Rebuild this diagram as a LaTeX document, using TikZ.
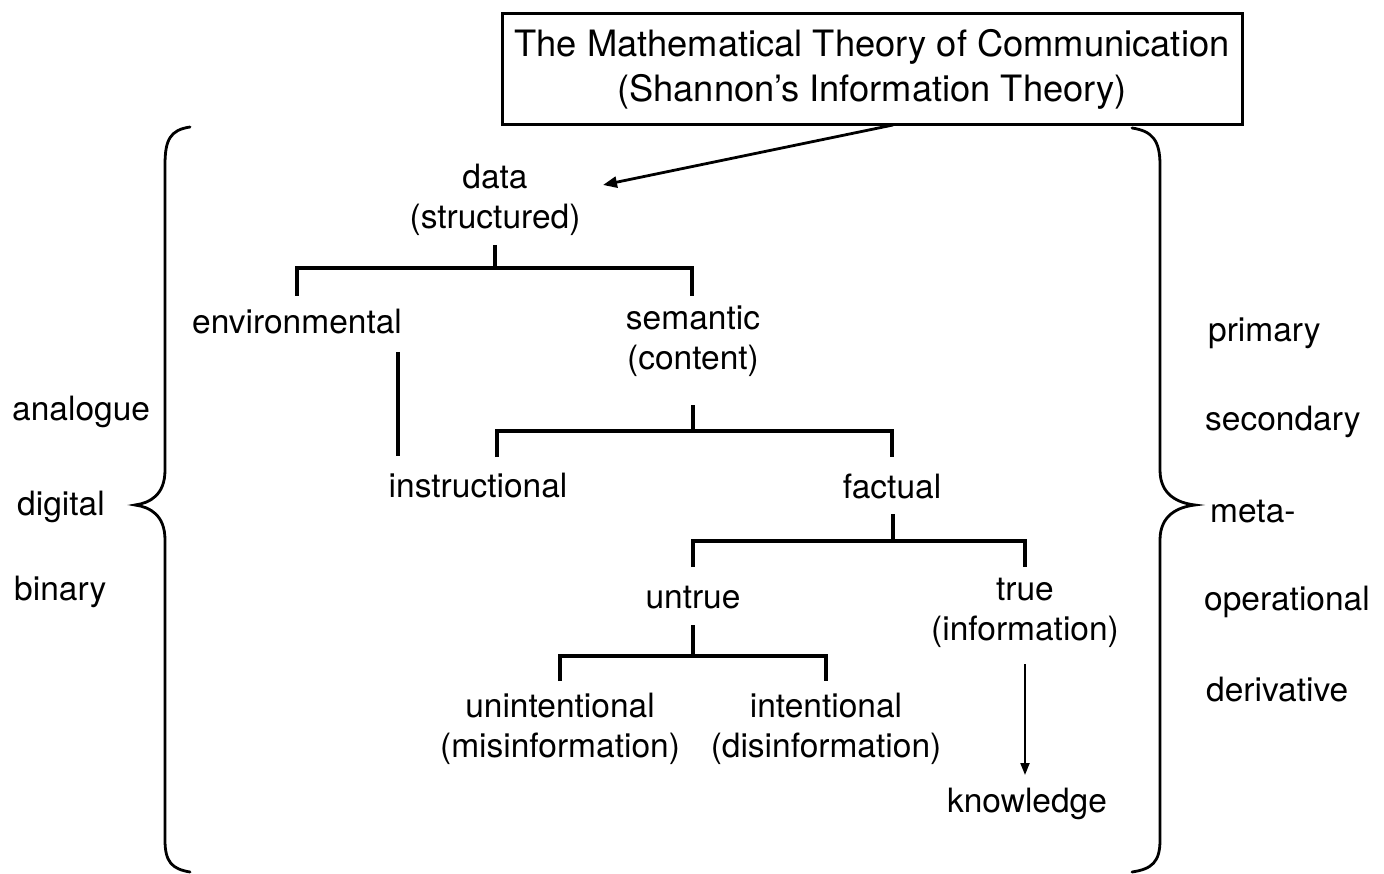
\documentclass[tikz,border=0pt]{standalone}
\usepackage{fontspec}
\setmainfont{TeX Gyre Heros}
\usetikzlibrary{arrows.meta}
\begin{document}
\begin{tikzpicture}[x=1pt,y=-1pt,
  lbl/.style={inner sep=0pt,align=center,font=\fontsize{33.5}{40}\selectfont},
  side/.style={inner sep=0pt,anchor=west,font=\fontsize{33.5}{40}\selectfont},
  ln/.style={line width=3.2pt,line cap=butt},
  thin/.style={line width=2pt},
  brace/.style={line width=2.8pt,line cap=round}]
\useasboundingbox (0,0) rectangle (1384,874);
% title box
\node[draw,line width=3pt,minimum width=740pt,minimum height=111pt,inner sep=0pt,align=center,
  font=\fontsize{36.3}{45}\selectfont] (title) at (872,69.5)
  {The Mathematical Theory of Communication\\(Shannon's Information Theory)};
% tree nodes
\node[lbl] (data) at (495,200) {data\\(structured)};
\node[lbl] (env) at (297,322) {environmental};
\node[lbl] (sem) at (693,341) {semantic\\(content)};
\node[lbl] (instr) at (478,486) {instructional};
\node[lbl] (fact) at (892,486) {factual};
\node[lbl] (untrue) at (693,598) {untrue};
\node[lbl] (true) at (1025,613) {true\\(information)};
\node[lbl] (unint) at (560,729) {unintentional\\(misinformation)};
\node[lbl] (int) at (826,729) {intentional\\(disinformation)};
\node[lbl] (know) at (1027,804) {knowledge};
% side labels
\node[side] (ana) at (12,412) {analogue};
\node[side] (dig) at (17,507) {digital};
\node[side] (bin) at (14,592) {binary};
\node[side] (pri) at (1208,333) {primary};
\node[side] (sec) at (1205,422) {secondary};
\node[side] (meta) at (1210,512) {meta-};
\node[side] (oper) at (1204,602) {operational};
\node[side] (deriv) at (1206,690) {derivative};
% arrow from title to data
\coordinate (tA) at (893,125);
\coordinate (dA) at (603,185);
\draw[line width=2.8pt,-{Triangle[length=14pt,width=11pt]}] (tA) -- (dA);
% data bracket
\coordinate (d0) at (495,245);
\coordinate (d1) at (495,268);
\coordinate (dL) at (297,296);
\coordinate (dR) at (692,296);
\draw[ln] (d0) -- (d1);
\draw[ln] (dL) |- (d1) -| (dR);
% environmental -> instructional
\coordinate (e0) at (398,352);
\coordinate (e1) at (398,456);
\draw[ln] (e0) -- (e1);
% semantic bracket
\coordinate (s0) at (693,405);
\coordinate (s1) at (693,431);
\coordinate (sL) at (497,457);
\coordinate (sR) at (892,457);
\draw[ln] (s0) -- (s1);
\draw[ln] (sL) |- (s1) -| (sR);
% factual bracket
\coordinate (f0) at (893,514);
\coordinate (f1) at (893,541);
\coordinate (fL) at (693,567);
\coordinate (fR) at (1025,567);
\draw[ln] (f0) -- (f1);
\draw[ln] (fL) |- (f1) -| (fR);
% untrue bracket
\coordinate (u0) at (693,625);
\coordinate (u1) at (693,656);
\coordinate (uL) at (560,681);
\coordinate (uR) at (826,681);
\draw[ln] (u0) -- (u1);
\draw[ln] (uL) |- (u1) -| (uR);
% true -> knowledge
\coordinate (k0) at (1025,664);
\coordinate (k1) at (1025,775);
\draw[thin,-{Triangle[length=12pt,width=9pt]}] (k0) -- (k1);
% left brace
\draw[brace] (190,127) .. controls (170,130) and (165,140) .. (165,165)
  -- (165,470) .. controls (165,495) and (150,503) .. (135,505)
  .. controls (150,507) and (165,515) .. (165,540)
  -- (165,840) .. controls (165,862) and (172,869) .. (190,872);
% right brace
\draw[brace] (1132,128) .. controls (1152,131) and (1160,140) .. (1160,165)
  -- (1160,470) .. controls (1160,495) and (1178,503) .. (1195,505)
  .. controls (1178,507) and (1160,515) .. (1160,540)
  -- (1160,840) .. controls (1160,862) and (1152,869) .. (1132,872);
\end{tikzpicture}
\end{document}
